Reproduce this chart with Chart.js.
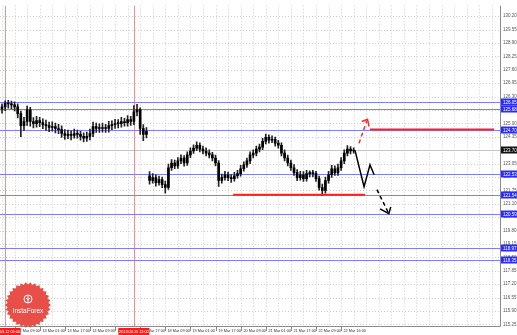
<!DOCTYPE html>
<html><head><meta charset="utf-8">
<script src="https://cdn.jsdelivr.net/npm/chart.js@4/dist/chart.umd.min.js"></script>
<style>html,body{margin:0;padding:0;background:#fff}#wrap{width:517px;height:335px;position:relative}</style>
</head><body><div id="wrap"><canvas id="c" width="517" height="335"></canvas></div>
<script>
// ---- data ----
const timeLabels = ["12 Mar 09:00","13 Mar 01:00","13 Mar 17:00","14 Mar 09:00","15 Mar 01:00","15 Mar 17:00","18 Mar 09:00","19 Mar 01:00","19 Mar 17:00","20 Mar 09:00","21 Mar 01:00","21 Mar 17:00","22 Mar 09:00","22 Mar 16:00"];
const tickBars = [4,12,20,28,36,44,52,60,68,76,84,92,100,108];
const yTicks = [130.20,129.55,128.90,128.25,127.60,126.95,126.30,125.65,125.00,124.35,123.70,123.05,122.40,121.75,121.10,120.45,119.80,119.15,118.50,117.85,117.20,116.55,115.90,115.25];
const opens  = [125.70,125.80,125.99,125.94,125.90,125.80,125.47,124.89,125.09,125.66,125.09,124.99,125.14,125.04,124.94,124.89,124.80,124.85,124.75,124.70,124.51,124.42,124.47,124.42,124.51,124.47,124.37,124.28,124.37,124.51,124.85,124.75,124.75,124.80,124.75,124.89,124.94,124.99,124.99,125.09,125.04,125.18,125.09,125.56,125.66,124.75,124.47,
122.45,122.23,122.37,122.13,122.27,122.03,121.89,122.85,123.08,122.94,123.18,123.32,123.08,123.47,123.66,123.80,123.94,123.75,123.66,123.56,123.47,123.32,123.08,122.23,122.37,122.51,122.37,122.32,122.46,122.56,122.80,122.99,123.18,123.47,123.56,123.75,123.85,124.13,124.32,124.18,124.23,124.04,123.94,123.56,123.32,123.08,122.85,122.61,122.37,122.51,122.32,122.56,122.56,122.56,122.32,121.89,121.75,122.23,122.51,122.80,122.61,122.85,123.18,123.56,123.75,123.66];
const highs  = [125.95,126.10,126.12,126.08,126.04,125.95,125.60,125.30,125.84,125.78,125.28,125.34,125.30,125.22,125.16,125.06,125.08,125.02,124.96,124.88,124.70,124.68,124.64,124.72,124.68,124.62,124.54,124.58,124.72,125.06,125.02,124.98,125.02,124.96,125.10,125.12,125.20,125.18,125.30,125.24,125.38,125.34,125.86,125.92,125.76,124.94,124.80,
122.66,122.56,122.50,122.44,122.40,122.20,123.02,123.24,123.22,123.34,123.48,123.44,123.62,123.82,123.96,124.10,124.06,123.90,123.82,123.72,123.60,123.46,123.20,122.54,122.68,122.64,122.52,122.62,122.72,122.96,123.14,123.32,123.62,123.72,123.90,124.00,124.28,124.48,124.44,124.40,124.34,124.18,124.06,123.72,123.46,123.22,123.00,122.76,122.68,122.66,122.72,122.70,122.72,122.68,122.44,122.06,122.40,122.68,122.96,122.94,123.02,123.34,123.72,123.92,123.88,123.82];
const lows   = [125.50,125.62,125.74,125.70,125.60,125.26,124.36,124.66,124.90,124.86,124.78,124.82,124.84,124.74,124.66,124.60,124.62,124.54,124.50,124.32,124.22,124.26,124.20,124.28,124.28,124.18,124.10,124.12,124.20,124.36,124.56,124.56,124.58,124.56,124.58,124.70,124.76,124.78,124.82,124.86,124.86,124.90,124.94,125.36,124.46,124.16,124.30,
122.05,122.10,121.95,122.00,121.88,121.62,121.80,122.72,122.80,122.82,123.04,122.92,122.96,123.34,123.54,123.68,123.62,123.52,123.42,123.32,123.18,122.94,121.94,122.10,122.24,122.22,122.14,122.20,122.34,122.44,122.68,122.86,123.04,123.32,123.42,123.62,123.72,124.00,124.04,124.06,123.90,123.80,123.42,123.18,122.94,122.72,122.48,122.22,122.24,122.18,122.20,122.40,122.42,122.18,121.76,121.50,121.62,122.10,122.38,122.48,122.48,122.72,123.04,123.42,123.52,123.56];
const closes = [125.80,125.99,125.94,125.90,125.80,125.47,124.89,125.09,125.66,125.09,124.99,125.14,125.04,124.94,124.89,124.80,124.85,124.75,124.70,124.51,124.42,124.47,124.42,124.51,124.47,124.37,124.28,124.37,124.51,124.85,124.75,124.75,124.80,124.75,124.89,124.94,124.99,124.99,125.09,125.04,125.18,125.09,125.56,125.66,124.75,124.47,124.61,
122.23,122.37,122.13,122.27,122.03,121.89,122.85,123.08,122.94,123.18,123.32,123.08,123.47,123.66,123.80,123.94,123.75,123.66,123.56,123.47,123.32,123.08,122.23,122.37,122.51,122.37,122.32,122.46,122.56,122.80,122.99,123.18,123.47,123.56,123.75,123.85,124.13,124.32,124.18,124.23,124.04,123.94,123.56,123.32,123.08,122.85,122.61,122.37,122.51,122.32,122.56,122.56,122.56,122.32,121.89,121.75,122.23,122.51,122.80,122.61,122.85,123.18,123.56,123.75,123.66,123.70];
const levelValues = [126.05,125.68,124.70,122.53,121.54,120.59,118.97,118.35];
const levelLabels = ["126.05","125.68","124.70","122.53","121.54","120.59","118.97","118.35"];
const bidValue = 123.70;
const bidLabel = "123.70";
const vLineBars = [1,42];
const vLineLabels = ["2013.03.12 09:00","2013.03.15 13:00"];
const resistX = [117.2,156.7], resistY = [124.70,124.70];
const supportX = [73.6,115.6], supportY = [121.54,121.54];
const upArrowX = [113.7,116.2], upArrowY = [124.04,125.13];
const upHeadX = [114.6,116.4,116.9], upHeadY = [125.09,125.20,124.85];
const downSolidX = [112.4,115.3,117.2,118.5], downSolidY = [123.70,121.93,122.99,122.51];
const downDashX = [119.4,123.2], downDashY = [121.79,120.62];
const dashHeadX = [120.4,123.2,123.8], dashHeadY = [120.85,120.62,120.94];

// ---- build ----
const idx = closes.map((_, i) => i);
const pts = (xs, ys) => xs.map((x, i) => ({x, y: ys[i]}));
const lineDs = (xs, ys, color, dash, w) => ({type:'line', data: pts(xs, ys), borderColor: color, borderWidth: w, borderDash: dash, pointRadius: 0, fill:false, tension:0, order:0});
const FONT = '"Liberation Sans", Arial, sans-serif';

const extras = {
  id: 'extras',
  beforeDatasetsDraw(chart) {
    const {ctx, chartArea: a, scales: {x, y}} = chart;
    ctx.save();
    ctx.strokeStyle = '#cfcfcf'; ctx.lineWidth = 1; ctx.setLineDash([1, 2]);
    yTicks.forEach(v => { const py = Math.round(y.getPixelForValue(v)) + 0.5; ctx.beginPath(); ctx.moveTo(a.left, py); ctx.lineTo(a.right, py); ctx.stroke(); });
    for (let b = 0; b <= 160; b += 4) { const px = Math.round(x.getPixelForValue(b)) + 0.5; if (px > a.right) break; ctx.beginPath(); ctx.moveTo(px, a.top); ctx.lineTo(px, a.bottom); ctx.stroke(); }
    ctx.setLineDash([]);
    ctx.strokeStyle = '#c4c4c4';
    let py = Math.round(y.getPixelForValue(bidValue)) + 0.5;
    ctx.beginPath(); ctx.moveTo(a.left, py); ctx.lineTo(a.right, py); ctx.stroke();
    ctx.strokeStyle = 'rgba(70,70,255,0.7)';
    levelValues.forEach(v => { const p = Math.round(y.getPixelForValue(v)) + 0.5; ctx.beginPath(); ctx.moveTo(a.left, p); ctx.lineTo(a.right, p); ctx.stroke(); });
    ctx.strokeStyle = 'rgba(255,90,90,0.7)';
    vLineBars.forEach(b => { const p = Math.round(x.getPixelForValue(b)) + 0.5; ctx.beginPath(); ctx.moveTo(p, a.top); ctx.lineTo(p, a.bottom); ctx.stroke(); });
    ctx.restore();
  },
  afterDraw(chart) {
    const {ctx, chartArea: a, scales: {x, y}} = chart;
    ctx.save();
    ctx.strokeStyle = '#8a8a8a'; ctx.lineWidth = 1;
    ctx.beginPath(); ctx.moveTo(a.left, a.bottom + 0.5); ctx.lineTo(a.right + 0.5, a.bottom + 0.5); ctx.lineTo(a.right + 0.5, a.top); ctx.stroke();
    // x labels
    ctx.font = '3.8px ' + FONT; ctx.textBaseline = 'middle'; ctx.textAlign = 'left'; ctx.fillStyle = '#333';
    tickBars.forEach((b, i) => {
      const p = Math.round(x.getPixelForValue(b)) + 0.5;
      ctx.beginPath(); ctx.moveTo(p, a.bottom); ctx.lineTo(p, a.bottom + 5); ctx.stroke();
      ctx.fillText(timeLabels[i], p + 2, a.bottom + 5);
    });
    // level labels
    ctx.font = '4.5px ' + FONT;
    levelValues.forEach((v, i) => {
      const p = Math.round(y.getPixelForValue(v));
      ctx.fillStyle = '#2b2bff'; ctx.fillRect(a.right + 1, p - 3.5, 17, 7);
      ctx.fillStyle = '#fff'; ctx.fillText(levelLabels[i], a.right + 3, p + 0.5);
    });
    const bp = Math.round(y.getPixelForValue(bidValue));
    ctx.fillStyle = '#111'; ctx.fillRect(a.right + 1, bp - 3.5, 17, 7);
    ctx.fillStyle = '#fff'; ctx.fillText(bidLabel, a.right + 3, bp + 0.5);
    // vertical line time boxes
    vLineBars.forEach((b, i) => {
      const p = x.getPixelForValue(b);
      ctx.fillStyle = '#ff1a1a'; ctx.fillRect(p - 15.5, a.bottom + 2, 31, 7);
      ctx.fillStyle = '#fff'; ctx.textAlign = 'center'; ctx.font = '3.8px ' + FONT;
      ctx.fillText(vLineLabels[i], p, a.bottom + 5.5);
    });
    // logo
    const cx = 28, cy = 305, n = 30;
    ctx.beginPath();
    for (let k = 0; k < n * 2; k++) {
      const r = k % 2 ? 20.5 : 23, ang = Math.PI * k / n;
      const px = cx + r * Math.cos(ang), pyy = cy + r * Math.sin(ang);
      k ? ctx.lineTo(px, pyy) : ctx.moveTo(px, pyy);
    }
    ctx.closePath(); ctx.fillStyle = 'rgba(228,60,52,0.9)'; ctx.fill();
    ctx.strokeStyle = '#fff'; ctx.lineWidth = 1;
    ctx.beginPath(); ctx.arc(cx, cy - 6, 4, 0, Math.PI * 2); ctx.stroke();
    ctx.beginPath(); ctx.moveTo(cx, cy - 9); ctx.lineTo(cx, cy - 3); ctx.moveTo(cx - 2, cy - 7); ctx.lineTo(cx, cy - 5); ctx.lineTo(cx + 2, cy - 7); ctx.stroke();
    ctx.fillStyle = '#fff'; ctx.textAlign = 'center'; ctx.font = '6.5px ' + FONT;
    ctx.fillText('InstaForex', cx, cy + 6);
    ctx.restore();
  }
};

new Chart(document.getElementById('c'), {
  type: 'bar',
  data: {
    datasets: [
      {type:'bar', data: idx.map(i => ({x: i, y: [lows[i], highs[i]]})), backgroundColor:'#222', barThickness:1, grouped:false, order:2},
      {type:'bar', data: idx.map(i => ({x: i, y: [opens[i], closes[i]]})), backgroundColor:'#000', barThickness:2, minBarLength:1, grouped:false, order:1},
      lineDs(resistX, resistY, '#ff2020', [], 2),
      lineDs(supportX, supportY, '#ff2020', [], 2),
      lineDs(upArrowX, upArrowY, '#ff2a2a', [4, 3], 1.5),
      lineDs(upHeadX, upHeadY, '#ff2a2a', [], 1.5),
      lineDs(downSolidX, downSolidY, '#000', [], 1.5),
      lineDs(downDashX, downDashY, '#000', [4, 3], 1.5),
      lineDs(dashHeadX, dashHeadY, '#000', [], 1.5)
    ]
  },
  options: {
    responsive:false, animation:false, devicePixelRatio:1,
    layout:{padding:0},
    plugins:{legend:{display:false}, tooltip:{enabled:false}},
    scales:{
      x:{type:'linear', min:-0.64, max:158.6, offset:false,
         afterBuildTicks: s => { s.ticks = tickBars.map(v => ({value:v})); },
         afterFit: s => { s.height = 9; },
         grid:{display:false}, border:{display:false},
         ticks:{display:false}},
      y:{position:'right', min:115.17, max:130.71,
         afterBuildTicks: s => { s.ticks = yTicks.map(v => ({value:v})); },
         afterFit: s => { s.width = 17; },
         grid:{display:false, drawTicks:false}, border:{display:false},
         ticks:{padding:3, color:'#555', font:{size:4.5, family:FONT},
                callback: v => Number(v).toFixed(2)}}
    }
  },
  plugins:[extras]
});
</script></body></html>
